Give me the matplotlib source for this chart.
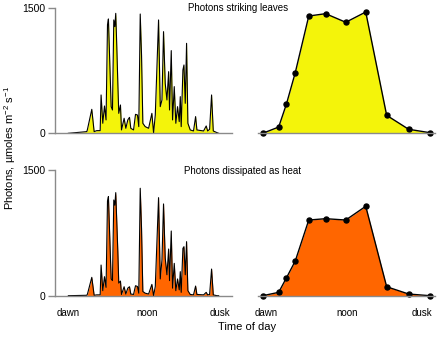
import matplotlib
matplotlib.use("Agg")
import matplotlib.pyplot as plt

plt.rcParams['font.family'] = ['Liberation Sans', 'DejaVu Sans']
plt.rcParams['mathtext.fontset'] = 'custom'
plt.rcParams['mathtext.rm'] = 'Liberation Sans'
plt.rcParams['mathtext.it'] = 'Liberation Sans'

# ---- data: detailed time series (hours, photons) ----
t_hours = [6.00, 7.41, 7.46, 7.79, 7.97, 8.17, 8.43, 8.50, 8.63, 8.76, 8.88, 8.99, 9.06,
           9.27, 9.37, 9.47, 9.55, 9.62, 9.70, 9.78, 9.85, 9.98, 10.06, 10.26, 10.39,
           10.54, 10.67, 10.77, 10.98, 11.13, 11.28, 11.38, 11.49, 11.59, 11.69, 11.87,
           12.13, 12.38, 12.51, 12.64, 12.89, 13.02, 13.15, 13.27, 13.40, 13.53, 13.66,
           13.73, 13.86, 13.96, 14.09, 14.21, 14.34, 14.47, 14.55, 14.62, 14.75, 14.83,
           14.93, 15.03, 15.13, 15.31, 15.56, 15.72, 15.82, 16.33, 16.53, 16.64, 16.79,
           16.94, 17.07, 17.35, 17.48]
striking = [0, 20, 48, 287, 20, 32, 32, 459, 120, 327, 160, 1300, 1369,
            319, 279, 1357, 1277, 1436, 1037, 598, 239, 339, 40, 180, 60,
            160, 191, 60, 40, 227, 219, 80, 1428, 937, 120, 80,
            60, 239, 5, 219, 1357, 319, 399, 1217, 598, 399, 738,
            279, 990, 160, 559, 120, 319, 140, 439, 80, 758, 818,
            359, 1077, 120, 40, 28, 200, 40, 28, 88, 28, 48,
            459, 28, 8, 0]
heat = [0, 5, 20, 219, 5, 10, 10, 366, 60, 227, 100, 1130, 1182,
        200, 180, 1142, 1080, 1230, 880, 525, 150, 175, 15, 107, 20,
        90, 107, 20, 15, 119, 110, 30, 1282, 804, 50, 30,
        20, 135, 0, 110, 1170, 200, 426, 1095, 450, 250, 557,
        180, 772, 90, 386, 60, 200, 70, 287, 40, 565, 585,
        250, 645, 60, 15, 10, 115, 15, 10, 40, 10, 15,
        318, 10, 0, 0]

# ---- data: averaged curves (hours, photons) ----
avg_hours = [5.78, 6.96, 7.53, 8.19, 9.19, 10.44, 11.93, 13.41, 14.96, 16.59, 18.17]
avg_striking = [0, 75, 347, 726, 1404, 1432, 1329, 1452, 215, 48, 7]
avg_heat = [0, 40, 211, 414, 903, 919, 903, 1067, 107, 20, 0]

tick_labels = ['dawn', 'noon', 'dusk']
tick_pos = [6, 12, 17.6]
titles = ['Photons striking leaves', 'Photons dissipated as heat']

YELLOW = '#f4f40a'
ORANGE = '#ff6600'
GREY = '#8a8a8a'

W, H = 440, 344
fig = plt.figure(figsize=(W / 100, H / 100), dpi=100)

def fx(px):
    return px / W

def fy(py):
    return 1 - py / H

rows = [(8, 133.3, striking, avg_striking, YELLOW, False),
        (170, 295.7, heat, avg_heat, ORANGE, True)]

for top, bot, series, avg, color, show_x in rows:
    axL = fig.add_axes([fx(55), fy(bot), fx(232) - fx(55), fy(top) - fy(bot)])
    axL.fill_between(t_hours, series, 0, color=color, lw=0)
    axL.plot(t_hours, series, color='black', lw=0.8)
    axL.set_xlim(4.98, 18.5)
    axL.set_ylim(0, 1500)
    axL.set_yticks([0, 1500])
    axL.set_yticklabels(['0', '1500'])
    for s in ['top', 'right']:
        axL.spines[s].set_visible(False)
    for s in ['left', 'bottom']:
        axL.spines[s].set_color(GREY)
        axL.spines[s].set_linewidth(1.0)
    axL.tick_params(axis='y', length=5, width=1.0, color=GREY, labelsize=7.5, pad=2)
    axL.tick_params(axis='x', length=0, labelsize=7, pad=9)
    axL.set_xticks(tick_pos)
    axL.set_xticklabels(tick_labels if show_x else [])

    axR = fig.add_axes([fx(258), fy(bot), fx(435) - fx(258), fy(top) - fy(bot)])
    axR.fill_between(avg_hours, avg, 0, color=color, lw=0)
    axR.plot(avg_hours, avg, color='black', lw=1.0, marker='o', ms=3.6, clip_on=False)
    axR.set_xlim(5.43, 18.54)
    axR.set_ylim(0, 1500)
    for s in ['top', 'right', 'left']:
        axR.spines[s].set_visible(False)
    axR.spines['bottom'].set_color(GREY)
    axR.spines['bottom'].set_linewidth(1.0)
    axR.set_yticks([])
    axR.tick_params(axis='x', length=0, labelsize=7, pad=9)
    axR.set_xticks(tick_pos)
    axR.set_xticklabels(tick_labels if show_x else [])

fig.text(fx(238.5), fy(8), titles[0], ha='center', va='center', fontsize=7)
fig.text(fx(242.5), fy(171), titles[1], ha='center', va='center', fontsize=7)
fig.text(fx(246.7), fy(326.7), 'Time of day', ha='center', va='center', fontsize=8)
fig.text(fx(10), fy(148), r'Photons, µmoles m$^{-2}$ s$^{-1}$', rotation=90,
         ha='center', va='center', fontsize=8)

fig.savefig('out.png', dpi=100)
